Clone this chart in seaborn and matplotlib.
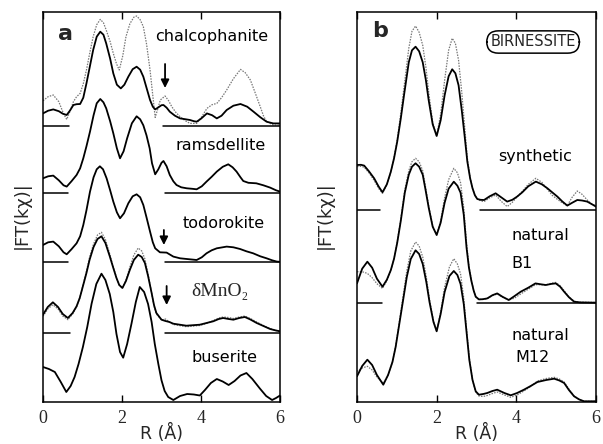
import numpy as np
import pandas as pd
import matplotlib
matplotlib.use("Agg")
import matplotlib.pyplot as plt
import seaborn as sns

# ---------------- data (R in Å, |FT| in arbitrary units above each baseline) -------------
chal_R = [0, 0.13, 0.26, 0.4, 0.5, 0.6, 0.68, 0.77, 0.85, 0.94, 1.02, 1.1, 1.18, 1.27, 1.36, 1.45, 1.53, 1.6, 1.7, 1.78,
          1.87, 1.97, 2.06, 2.16, 2.27, 2.37, 2.46, 2.54, 2.62, 2.71, 2.78, 2.84, 2.92, 3.0, 3.05, 3.13, 3.21, 3.34, 3.47,
          3.6, 3.72, 3.82, 3.89, 4.0, 4.15, 4.28, 4.4, 4.52, 4.65, 4.82, 5.0, 5.17, 5.33, 5.5, 5.66, 5.83, 6.0]
chal_exp = [12.3, 15, 16.3, 14.5, 12, 10.7, 15, 20.7, 21.5, 21.7, 28, 42.3, 58, 75.7, 89, 94, 91, 82.3, 67, 52.3,
            41, 37.3, 41, 49, 56.5, 59, 56, 49, 38, 25.7, 19, 16.3, 18.3, 20.5, 20.7, 18, 14, 10, 7.3,
            6.5, 5.7, 4.5, 4, 7, 12.3, 10.5, 7.3, 10, 15.7, 20, 21.7, 19, 14, 8.5, 4, 2.3, 2.3]
chal_fit_R = [0, 0.13, 0.26, 0.4, 0.52, 0.6, 0.68, 0.77, 0.85, 0.94, 1.02, 1.1, 1.18, 1.27, 1.36, 1.45, 1.53, 1.6, 1.7,
              1.78, 1.86, 1.93, 2.02, 2.1, 2.2, 2.3, 2.37, 2.46, 2.54, 2.62, 2.71, 2.78, 2.84, 2.9, 2.97, 3.09, 3.18,
              3.26, 3.37, 3.47, 3.6, 3.72, 3.89, 4.02, 4.15, 4.28, 4.4, 4.52, 4.65, 4.82, 5.0, 5.12, 5.25, 5.38, 5.5,
              5.58, 5.66, 5.83, 6.0]
chal_fit = [25, 29, 30.7, 24, 12, 6.3, 14, 24, 29, 32.3, 42, 55.7, 72, 89, 101, 106.3, 103, 95.7, 84,
            72.3, 62, 55.7, 70, 89, 102, 108.5, 109.7, 106, 99, 82, 55.7, 30, 8.3, 16, 25.7, 29.7, 25,
            19, 13, 9, 5, 2.3, 2.3, 9, 17.3, 21, 22.3, 28, 35.7, 47, 56.3, 53, 45.7, 32, 19,
            10, 4, 0.7, 0.7]

rams_R = [0, 0.13, 0.26, 0.4, 0.52, 0.6, 0.72, 0.85, 0.94, 1.02, 1.1, 1.19, 1.28, 1.36, 1.45, 1.53, 1.6, 1.7, 1.78,
          1.87, 1.95, 2.04, 2.13, 2.25, 2.37, 2.46, 2.54, 2.62, 2.7, 2.76, 2.84, 2.92, 3.0, 3.05, 3.13, 3.21, 3.3,
          3.38, 3.5, 3.64, 3.78, 3.89, 4.02, 4.14, 4.27, 4.4, 4.55, 4.69, 4.8, 4.9, 5.0, 5.07, 5.2, 5.4, 5.58,
          5.75, 5.9, 6.0]
rams_exp = [15, 17, 17.7, 13, 8, 6.7, 12, 18.3, 25, 35, 47, 61.7, 78, 90, 94.3, 91, 85, 72, 60,
            45, 35, 42, 55, 70, 77, 74, 68, 58, 45, 30, 19, 24, 30.5, 32.3, 27, 18.3, 12,
            8.3, 6, 5, 4.5, 4, 7, 11.7, 16.5, 21.7, 26.5, 29, 26, 21.7, 16, 12.3, 10.5, 10, 8,
            5.7, 3, 1.7]

todo_R = [0, 0.13, 0.26, 0.4, 0.52, 0.6, 0.72, 0.85, 0.94, 1.02, 1.1, 1.19, 1.28, 1.36, 1.44, 1.52, 1.61, 1.7, 1.78,
          1.87, 1.95, 2.05, 2.16, 2.27, 2.37, 2.46, 2.54, 2.62, 2.71, 2.78, 2.84, 2.96, 3.13, 3.3, 3.47, 3.64, 3.89,
          4.02, 4.14, 4.27, 4.4, 4.65, 4.82, 4.99, 5.15, 5.32, 5.5, 5.66, 5.8, 5.92, 6.0]
todo_exp = [17.3, 20, 20.7, 16, 10, 8, 13, 19, 26, 37.3, 52, 70.7, 85, 93, 96, 93, 84, 72, 60.7,
            50, 44, 49, 59, 66, 68, 65, 57.3, 45, 30.7, 20, 14, 10, 9.7, 5.7, 4, 3.3, 2.3,
            5, 9, 12, 14, 15.7, 15, 13.3, 11, 9, 6, 4, 2, 0.7, 0.5]

dmn_R = [0, 0.12, 0.25, 0.38, 0.5, 0.63, 0.75, 0.85, 0.93, 1.01, 1.1, 1.18, 1.28, 1.38, 1.48, 1.58, 1.69, 1.78, 1.86,
         1.93, 2.01, 2.1, 2.2, 2.3, 2.41, 2.5, 2.58, 2.66, 2.75, 2.81, 2.87, 3.0, 3.1, 3.2, 3.3, 3.63, 3.97, 4.14,
         4.31, 4.45, 4.56, 4.7, 4.82, 4.97, 5.11, 5.25, 5.41, 5.58, 5.75, 5.9, 6.0]
dmn_exp = [18.3, 26, 30.7, 26, 19, 15, 20, 26.7, 35, 46.7, 60, 73.3, 86, 94, 96.7, 90, 76.7, 65, 55,
           48, 45, 52, 63.3, 73, 78.3, 76, 70, 57, 40, 28, 20, 13.3, 12, 11, 9.3, 7.3, 8.3, 10,
           11.7, 14, 15, 14, 13.3, 15, 16, 13.5, 10, 7, 4, 2.5, 1.7]
dmn_fit = [16.7, 24, 28.3, 24, 17, 13.3, 19, 26, 35, 47.5, 62, 76, 89, 98, 100.7, 93.5, 79, 66, 55.5,
           48, 45, 53, 66, 78, 85, 82, 74, 59, 40, 27, 19, 13, 14, 11, 8.5, 6.3, 7.5, 9.5,
           12.5, 15, 16, 15.5, 14.5, 16, 17, 14.5, 11, 7.5, 4.5, 2.5, 1.7]

buse_R = [0, 0.15, 0.3, 0.45, 0.59, 0.7, 0.8, 0.9, 1.01, 1.12, 1.23, 1.35, 1.48, 1.58, 1.69, 1.78, 1.86, 1.95, 2.03,
          2.13, 2.24, 2.35, 2.45, 2.56, 2.66, 2.75, 2.83, 2.92, 3.0, 3.08, 3.17, 3.3, 3.47, 3.65, 3.82, 3.97, 4.1,
          4.25, 4.4, 4.55, 4.7, 4.85, 5.0, 5.15, 5.3, 5.49, 5.65, 5.8, 5.9, 6.0]
buse_exp = [35, 33, 30, 20, 10, 16, 25, 38, 55, 75, 98.3, 118, 128.3, 122, 108, 90, 68, 50, 44.3,
            58, 78.3, 100, 115, 110, 98, 80, 58, 38, 21.7, 11, 5, 2, 6, 8, 7.5, 6.5, 12,
            19, 23, 20.5, 17, 21, 26.5, 29, 23, 13.5, 6, 2, 4, 6.5]

syn_R = [0, 0.1, 0.18, 0.3, 0.43, 0.54, 0.64, 0.75, 0.85, 0.93, 1.01, 1.1, 1.18, 1.3, 1.38, 1.47, 1.56, 1.65, 1.73,
         1.8, 1.9, 2.0, 2.1, 2.2, 2.3, 2.39, 2.47, 2.55, 2.63, 2.7, 2.77, 2.84, 2.9, 2.96, 3.02, 3.1, 3.19, 3.33,
         3.48, 3.62, 3.77, 3.9, 4.02, 4.15, 4.3, 4.49, 4.64, 4.78, 4.9, 5.03, 5.15, 5.28, 5.4, 5.53, 5.65, 5.78,
         5.9, 6.0]
syn_exp = [45.3, 45.5, 44.7, 39, 32, 24, 18, 26, 38.7, 52, 68.7, 92, 115, 148, 160, 163.6, 159, 148, 130,
           110, 86, 74.3, 90, 115, 134, 141, 137, 125, 100, 75, 48.7, 32, 22, 15, 11.3, 10.5, 10.3, 14,
           17, 13, 8.7, 10.5, 13.7, 18, 24, 28.7, 26, 22, 18, 13.7, 9, 4.7, 7.5, 10.3, 9.8, 8.7,
           6, 3.7]
syn_fit = [43.7, 44, 43, 37.5, 30, 22, 17, 25.5, 38.5, 53, 71, 97, 123, 162, 179, 184.3, 178, 165, 143,
           118, 88, 74.3, 96, 130, 160, 172, 167, 150, 118, 85, 52, 33, 22, 15, 11.5, 9.5, 8.7, 12.5,
           15.3, 9, 3.7, 8, 13.5, 19, 26, 32, 28, 21, 15, 11, 7.5, 4.7, 13, 19.3, 16, 10.3,
           6, 4.5]

b1_R = [0, 0.13, 0.26, 0.38, 0.5, 0.64, 0.75, 0.85, 0.93, 1.01, 1.1, 1.2, 1.3, 1.38, 1.47, 1.56, 1.65, 1.72, 1.8,
        1.9, 2.0, 2.1, 2.2, 2.3, 2.43, 2.52, 2.6, 2.68, 2.75, 2.81, 2.87, 2.93, 2.98, 3.06, 3.16, 3.27, 3.4, 3.52,
        3.65, 3.81, 3.95, 4.11, 4.3, 4.48, 4.6, 4.74, 4.88, 4.99, 5.1, 5.2, 5.32, 5.45, 5.6, 6.0]
b1_exp = [19.3, 34, 41, 35, 24, 16, 23, 32.7, 44, 60, 82, 110, 128, 136, 139.4, 136, 128, 113, 95,
          76, 67.7, 80, 100, 114, 121, 117, 110, 88, 55, 35, 22, 12, 6, 3.3, 3.5, 4.3, 7.5, 9.3,
          6, 2.7, 6.5, 11, 15, 19.3, 18.5, 17.7, 18.8, 19.3, 16, 11, 5.5, 1, 0.3, 0]
b1_fit = [31, 31, 29.3, 25, 19, 14.3, 22, 32, 44, 61, 84, 113, 132, 141, 144.4, 141, 132, 116, 97,
          77, 67.7, 82, 105, 123, 134.4, 130, 120, 95, 60, 37, 23, 12, 6, 3.3, 3.3, 4, 7, 8.7,
          5.5, 2.7, 4.5, 8.7, 13.5, 18, 18, 17.7, 19.5, 20.3, 17, 12, 6, 1.5, 0.5, 0.3]

m12_R = [0, 0.13, 0.26, 0.38, 0.5, 0.66, 0.78, 0.89, 0.97, 1.05, 1.15, 1.25, 1.35, 1.47, 1.56, 1.65, 1.74, 1.82,
         1.92, 2.0, 2.1, 2.2, 2.32, 2.43, 2.52, 2.6, 2.68, 2.75, 2.82, 2.9, 2.98, 3.06, 3.17, 3.27, 3.4, 3.52, 3.7,
         3.86, 4.02, 4.19, 4.36, 4.53, 4.75, 4.95, 5.08, 5.2, 5.32, 5.45, 5.58, 5.7, 6.0]
m12_exp = [25.7, 36, 42.3, 37, 27, 17.3, 27, 40, 55, 75, 100, 125, 143, 151.7, 148, 138, 120, 100,
           80, 70.7, 88, 110, 126, 131, 127, 118, 98, 70, 42, 22, 10.7, 7.3, 8, 9, 11, 12.3, 9,
           6.7, 9, 12.3, 16, 20, 22, 23.3, 21.5, 19, 12, 5.7, 2.5, 0.7, 0.7]
m12_fit = [30.7, 34, 35.7, 32, 25, 18.5, 27, 40, 56, 77, 104, 131, 151, 160, 156, 145, 125, 103,
           81, 70.7, 90, 115, 135, 143.3, 138, 128, 104, 73, 44, 22, 10, 6, 5.5, 6.5, 8.5, 10, 7,
           4.7, 7, 11, 15.5, 21, 23.5, 24.7, 23, 20, 13, 6, 2.5, 0.7, 0.7]

labels_a = ["chalcophanite", "ramsdellite", "todorokite", "δMnO₂", "buserite"]
labels_b = ["synthetic", "natural", "B1", "natural", "M12"]
xticks = [0, 2, 4, 6]

# ---------------- layout constants ----------------
W, H = 603, 444
Y_TOP = 390
off_a = [276.3, 208.7, 139.7, 69.0, 0.0]
off_b = [191.7, 99.3, 0.0]

sns.set_theme(style="white")
plt.rcParams['font.family'] = ['DejaVu Sans']

fig = plt.figure(figsize=(W / 100, H / 100), dpi=100)
axa = fig.add_axes([43 / W, 1 - 402 / H, 237 / W, 390 / H])
axb = fig.add_axes([357 / W, 1 - 402 / H, 239 / W, 390 / H])

EXP = dict(color="black", lw=1.3)
FIT = dict(color="#777777", lw=0.9, linestyle=(0, (1.2, 1.0)))


def draw(ax, R, v, off, style):
    df = pd.DataFrame({"R": R, "FT": np.asarray(v, float) + off})
    sns.lineplot(data=df, x="R", y="FT", ax=ax, estimator=None, sort=False, **style)


def base(ax, off, left_end, right_start):
    ax.plot([0, left_end], [off, off], color="black", lw=1.1)
    ax.plot([right_start, 6], [off, off], color="black", lw=1.1)


# panel a
draw(axa, chal_fit_R, chal_fit, off_a[0], FIT)
draw(axa, chal_R, chal_exp, off_a[0], EXP)
draw(axa, rams_R, rams_exp, off_a[1], EXP)
draw(axa, todo_R, todo_exp, off_a[2], EXP)
draw(axa, dmn_R, dmn_fit, off_a[3], FIT)
draw(axa, dmn_R, dmn_exp, off_a[3], EXP)
draw(axa, buse_R, buse_exp, off_a[4], EXP)
base(axa, off_a[0], 0.67, 3.05)
base(axa, off_a[1], 0.64, 3.09)
base(axa, off_a[2], 0.64, 3.09)
base(axa, off_a[3], 0.68, 3.09)

# panel b
draw(axb, syn_R, syn_fit, off_b[0], FIT)
draw(axb, syn_R, syn_exp, off_b[0], EXP)
draw(axb, b1_R, b1_fit, off_b[1], FIT)
draw(axb, b1_R, b1_exp, off_b[1], EXP)
draw(axb, m12_R, m12_fit, off_b[2], FIT)
draw(axb, m12_R, m12_exp, off_b[2], EXP)
base(axb, off_b[0], 0.58, 3.09)
base(axb, off_b[1], 0.64, 3.02)

for ax in (axa, axb):
    ax.set_xlim(0, 6)
    ax.set_ylim(0, Y_TOP)
    ax.set_xlabel("")
    ax.set_ylabel("")
    ax.set_yticks([])
    ax.set_xticks(xticks)
    ax.set_xticklabels([str(t) for t in xticks], family=['Liberation Serif', 'DejaVu Serif'], fontsize=13)
    ax.tick_params(axis="x", direction="in", top=True, bottom=True, length=5, width=1, color="black", pad=6)
    for s in ax.spines.values():
        s.set_color("black")
        s.set_linewidth(1.1)
        s.set_visible(True)

# texts panel a
tk = dict(fontsize=11.5, ha="center", va="center", color="black")
axa.text(0.58, 368, "a", fontsize=16, fontweight="bold", ha="center", va="center")
axa.text(4.28, 366, labels_a[0], **tk)
axa.text(4.5, 256, labels_a[1], **tk)
axa.text(4.57, 178, labels_a[2], **tk)
axa.text(4.48, 110, labels_a[3], fontsize=14, ha="center", va="center",
         family=['Liberation Serif', 'DejaVu Serif'])
axa.text(4.6, 45, labels_a[4], **tk)

arr = dict(arrowstyle="-|>", color="black", lw=1.3, mutation_scale=12, shrinkA=0, shrinkB=0)
axa.annotate("", xy=(3.09, 314), xytext=(3.09, 338), arrowprops=arr)
axa.annotate("", xy=(3.06, 157), xytext=(3.06, 172), arrowprops=arr)
axa.annotate("", xy=(3.13, 97), xytext=(3.13, 116), arrowprops=arr)

# texts panel b
axb.text(0.58, 371, "b", fontsize=16, fontweight="bold", ha="center", va="center")
axb.text(4.42, 360, "BIRNESSITE", fontsize=10.5, ha="center", va="center",
         bbox=dict(boxstyle="round,pad=0.25,rounding_size=0.8", fc="white", ec="black", lw=1.1))
axb.text(4.47, 245, labels_b[0], **tk)
axb.text(4.6, 167, labels_b[1], **tk)
axb.text(4.15, 139, labels_b[2], **tk)
axb.text(4.6, 67, labels_b[3], **tk)
axb.text(4.4, 45, labels_b[4], **tk)

# axis labels
for xp in (22, 325):
    fig.text(xp / W, 1 - 215 / H, "|FT(kχ)|", rotation=90, ha="center", va="center", fontsize=13)
for xc in (162, 477):
    fig.text(xc / W, 1 - 443 / H, "R (Å)", ha="center", va="bottom", fontsize=12.5)

fig.savefig("out.png", dpi=100)
